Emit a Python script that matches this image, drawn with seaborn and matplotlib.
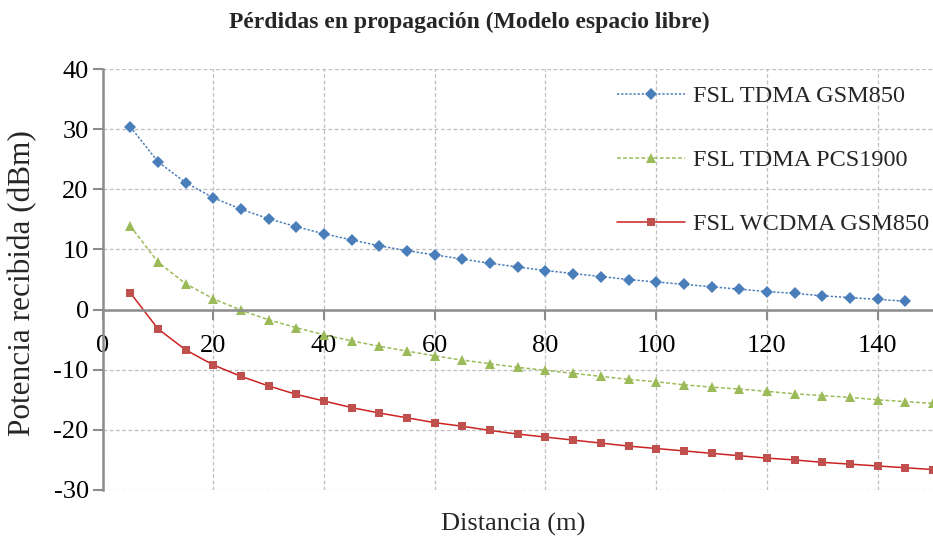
import numpy as np
import pandas as pd
import matplotlib
matplotlib.use("Agg")
import matplotlib.pyplot as plt
import seaborn as sns

dist_blue = [5, 10, 15, 20, 25, 30, 35, 40, 45, 50, 55, 60, 65, 70, 75, 80, 85, 90, 95,
             100, 105, 110, 115, 120, 125, 130, 135, 140, 145]
dist_other = dist_blue + [150]

gsm850_tdma = [30.4, 24.6, 21.1, 18.6, 16.7, 15.1, 13.8, 12.6, 11.6, 10.6, 9.8, 9.1, 8.4, 7.7,
               7.1, 6.5, 6.0, 5.5, 5.0, 4.6, 4.2, 3.8, 3.4, 3.0, 2.7, 2.3, 2.0, 1.7, 1.4]
pcs1900_tdma = [13.9, 7.9, 4.3, 1.8, -0.1, -1.7, -3.0, -4.2, -5.2, -6.1, -6.9, -7.7, -8.4, -9.0,
                -9.6, -10.1, -10.6, -11.1, -11.6, -12.0, -12.5, -12.9, -13.2, -13.6, -14.0,
                -14.3, -14.6, -15.0, -15.3, -15.6]
gsm850_wcdma = [2.8, -3.2, -6.7, -9.2, -11.1, -12.7, -14.1, -15.2, -16.3, -17.2, -18.0, -18.8,
                -19.4, -20.1, -20.7, -21.2, -21.7, -22.2, -22.7, -23.1, -23.5, -23.9, -24.3,
                -24.7, -25.0, -25.4, -25.7, -26.0, -26.3, -26.6]

labels = ["FSL TDMA GSM850", "FSL TDMA PCS1900", "FSL WCDMA GSM850"]
x_ticks = [0, 20, 40, 60, 80, 100, 120, 140]
y_ticks = [-30, -20, -10, 0, 10, 20, 30, 40]

sns.set_theme(style="white")
plt.rcParams['font.family'] = ['Liberation Serif', 'DejaVu Serif']

W, H = 933, 540
fig = plt.figure(figsize=(9.33, 5.4), dpi=100)
ax = fig.add_axes([0.110, 0.0926, 0.890, 0.7794])

df1 = pd.DataFrame({"d": dist_blue, "p": gsm850_tdma})
df2 = pd.DataFrame({"d": dist_other, "p": pcs1900_tdma})
df3 = pd.DataFrame({"d": dist_other, "p": gsm850_wcdma})

sns.lineplot(data=df1, x="d", y="p", ax=ax, color="#4A7EBB", linestyle=(0, (1.5, 1.2)),
             linewidth=1.1, marker="D", markersize=6, markeredgewidth=0, label=labels[0])
sns.lineplot(data=df2, x="d", y="p", ax=ax, color="#9BBB59", linestyle=(0, (2.5, 1.5)),
             linewidth=1.1, marker="^", markersize=7, markeredgewidth=0, label=labels[1])
sns.lineplot(data=df3, x="d", y="p", ax=ax, color="#C0504D", linestyle="-",
             linewidth=1.1, marker="s", markersize=6, markeredgewidth=0, label=labels[2])
ax.lines[2].set_color("#CC2222")
ax.lines[2].set_markerfacecolor("#C0504D")

ax.set_xlim(0, 150)
ax.set_ylim(-30, 40)
ax.set_xticks(x_ticks)
ax.set_yticks(y_ticks)
ax.set_xticklabels([str(v) for v in x_ticks])
ax.set_yticklabels([str(v) for v in y_ticks])

for s in ["top", "right"]:
    ax.spines[s].set_visible(False)
ax.spines["bottom"].set_position(("data", 0))
ax.spines["bottom"].set_color("#8c8c8c")
ax.spines["left"].set_color("#8c8c8c")
ax.spines["bottom"].set_linewidth(1.8)
ax.spines["left"].set_linewidth(1.8)

ax.grid(True, color="#bfbfbf", linestyle=(0, (3, 2)), linewidth=0.9)
ax.set_axisbelow(True)
ax.tick_params(axis="both", which="major", labelsize=19, colors="#8c8c8c",
               labelcolor="black", length=7, width=1.5, direction="out",
               left=True, bottom=True, pad=3)
ax.tick_params(axis="x", pad=11)

ax.set_xlabel("")
ax.set_ylabel("")
fig.text(513 / W, 1 - 524 / H, "Distancia (m)", fontsize=19, ha="center", va="center")
fig.text(23 / W, 1 - 283 / H, "Potencia recibida (dBm)", fontsize=22.5, ha="center",
         va="center", rotation=90)
fig.text(469 / W, 1 - 22 / H, "Pérdidas en propagación (Modelo espacio libre)", fontsize=17,
         fontweight="bold", ha="center", va="center")

leg = ax.legend(loc="upper left", bbox_to_anchor=(617 / W, 1 - 85 / H),
                bbox_transform=fig.transFigure, frameon=False, borderpad=0,
                borderaxespad=0, fontsize=17.5, labelspacing=1.73, handlelength=2.8,
                handletextpad=0.33)

fig.savefig("out.png", dpi=100)
